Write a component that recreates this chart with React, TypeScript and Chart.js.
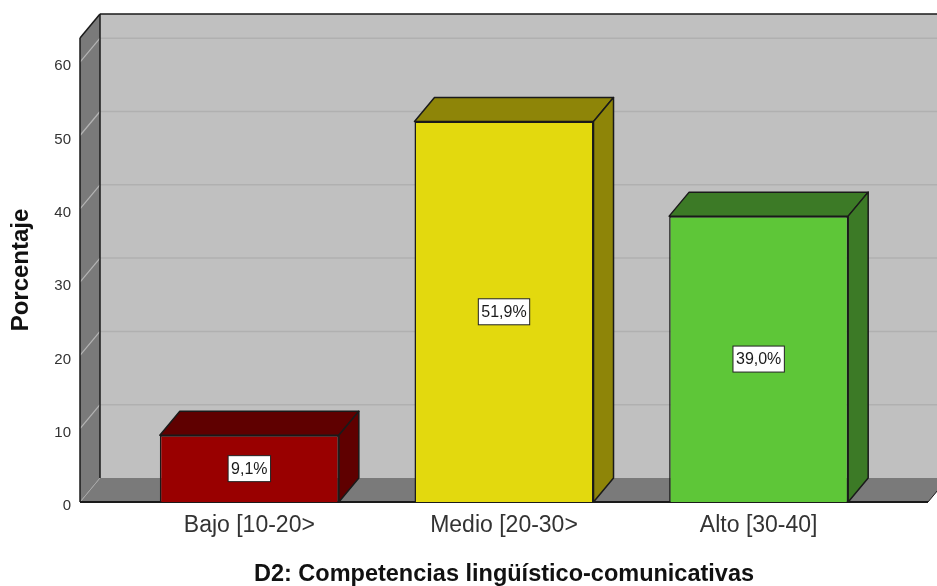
import React, { useEffect, useRef } from "react";
import { Chart, registerables } from "chart.js";

Chart.register(...registerables);

const categories = ["Bajo [10-20>", "Medio [20-30>", "Alto [30-40]"];
const percentages = [9.1, 51.9, 39.0];
const frontColors = ["#990000", "#e3d90e", "#5ec638"];
const sideColors = ["#5f0000", "#8e8508", "#3c7a26"];
const yTicks = [0, 10, 20, 30, 40, 50, 60];
const yTitle = "Porcentaje";
const xTitle = "D2: Competencias lingüístico-comunicativas";

const DX = 20;
const DY = -24;
const SIDE = 42;
const HEAD = 22;
const WALL = "#c0c0c0";
const DARK_WALL = "#7a7a7a";
const EDGE = "#1a1a1a";
const FONT = '"Liberation Sans", Arial, sans-serif';

function poly(ctx: CanvasRenderingContext2D, pts: number[][], fill: string | null, stroke: string | null, lw = 1.5) {
  ctx.beginPath();
  pts.forEach(([x, y], i) => (i ? ctx.lineTo(x, y) : ctx.moveTo(x, y)));
  ctx.closePath();
  if (fill) {
    ctx.fillStyle = fill;
    ctx.fill();
  }
  if (stroke) {
    ctx.strokeStyle = stroke;
    ctx.lineWidth = lw;
    ctx.lineJoin = "round";
    ctx.stroke();
  }
}

function line(ctx: CanvasRenderingContext2D, x1: number, y1: number, x2: number, y2: number, color: string, lw: number) {
  ctx.beginPath();
  ctx.moveTo(x1, y1);
  ctx.lineTo(x2, y2);
  ctx.strokeStyle = color;
  ctx.lineWidth = lw;
  ctx.stroke();
}

const box3d = {
  id: "box3d",
  beforeDatasetsDraw(chart: any) {
    const { ctx, chartArea: a, scales } = chart;
    const left = a.left - SIDE;
    const right = a.right + SIDE;
    const top = a.top - HEAD;
    const bottom = a.bottom;
    ctx.save();
    poly(ctx, [[left + DX, top + DY], [right + DX, top + DY], [right + DX, bottom + DY], [left + DX, bottom + DY]], WALL, null);
    poly(ctx, [[left, top], [left + DX, top + DY], [left + DX, bottom + DY], [left, bottom]], DARK_WALL, null);
    poly(ctx, [[left, bottom], [left + DX, bottom + DY], [right + DX, bottom + DY], [right, bottom]], DARK_WALL, null);
    yTicks.slice(1).forEach((v) => {
      const y = scales.y.getPixelForValue(v);
      line(ctx, left + DX, y + DY, right + DX, y + DY, "#b0b0b0", 1.5);
      line(ctx, left, y, left + DX, y + DY, "#b4b4b4", 1.2);
    });
    line(ctx, left + 1, bottom - 1, left + DX, bottom + DY, "#a8a8a8", 1);
    line(ctx, left + DX, top + DY, right + DX, top + DY, EDGE, 1.5);
    line(ctx, left + DX, top + DY, left + DX, bottom + DY, EDGE, 1.5);
    line(ctx, left, top, left + DX, top + DY, EDGE, 1.5);
    line(ctx, left, top, left, bottom, EDGE, 1.5);
    line(ctx, left, bottom, right, bottom, EDGE, 2);
    line(ctx, right, bottom, right + DX, bottom + DY, EDGE, 1);
    chart.getDatasetMeta(0).data.forEach((bar: any, i: number) => {
      const l = bar.x - bar.width / 2;
      const r = bar.x + bar.width / 2;
      poly(ctx, [[l, bar.y], [l + DX, bar.y + DY], [r + DX, bar.y + DY], [r, bar.y]], sideColors[i], EDGE);
      poly(ctx, [[r, bar.y], [r + DX, bar.y + DY], [r + DX, bar.base + DY], [r, bar.base]], sideColors[i], EDGE);
    });
    ctx.restore();
  },
  afterDatasetsDraw(chart: any) {
    const { ctx } = chart;
    ctx.save();
    ctx.font = `16px ${FONT}`;
    ctx.textAlign = "center";
    ctx.textBaseline = "middle";
    chart.getDatasetMeta(0).data.forEach((bar: any, i: number) => {
      const text = percentages[i].toFixed(1).replace(".", ",") + "%";
      const w = ctx.measureText(text).width + 6;
      const h = 26;
      const cy = (bar.y + bar.base) / 2;
      ctx.fillStyle = "#ffffff";
      ctx.fillRect(bar.x - w / 2, cy - h / 2, w, h);
      ctx.strokeStyle = "#222222";
      ctx.lineWidth = 1;
      ctx.strokeRect(bar.x - w / 2, cy - h / 2, w, h);
      ctx.fillStyle = "#1a1a1a";
      ctx.fillText(text, bar.x, cy + 1);
    });
    ctx.translate(21, 270);
    ctx.rotate(-Math.PI / 2);
    ctx.font = `bold 24px ${FONT}`;
    ctx.fillStyle = "#111111";
    ctx.fillText(yTitle, 0, 0);
    ctx.restore();
  },
};

export default function App() {
  const ref = useRef<HTMLCanvasElement>(null);
  useEffect(() => {
    const chart = new Chart(ref.current!, {
      type: "bar",
      data: {
        labels: categories,
        datasets: [
          {
            data: percentages,
            backgroundColor: frontColors,
            borderColor: EDGE,
            borderWidth: 1.5,
            barPercentage: 1,
            categoryPercentage: 0.703,
          },
        ],
      },
      options: {
        animation: false,
        responsive: false,
        layout: { padding: { top: 16, right: 51, left: 0, bottom: 0 } },
        plugins: { legend: { display: false }, tooltip: { enabled: false } },
        scales: {
          x: {
            grid: { display: false, drawTicks: false },
            border: { display: false },
            ticks: { color: "#333333", font: { family: FONT, size: 23 }, padding: 10 },
            title: {
              display: true,
              text: xTitle,
              color: "#111111",
              font: { family: FONT, size: 23.5, weight: "bold" },
              padding: { top: 0, bottom: -3 },
            },
            afterFit: (s: any) => {
              s.height = 84;
            },
          },
          y: {
            min: 0,
            max: 60.3,
            grid: { display: false, drawTicks: false },
            border: { display: false },
            ticks: { stepSize: 10, color: "#333333", font: { family: FONT, size: 15 }, padding: 51, labelOffset: 4 },
            afterBuildTicks: (s: any) => {
              s.ticks = yTicks.map((value) => ({ value }));
            },
            afterFit: (s: any) => {
              s.width = 122;
            },
          },
        },
      },
      plugins: [box3d],
    } as any);
    return () => chart.destroy();
  }, []);
  return (
    <div style={{ position: "absolute", left: 0, top: 0, width: 937, height: 586, background: "#fff", overflow: "hidden" }}>
      <canvas ref={ref} width={937} height={586} style={{ display: "block", filter: "blur(0.35px)" }} />
    </div>
  );
}
